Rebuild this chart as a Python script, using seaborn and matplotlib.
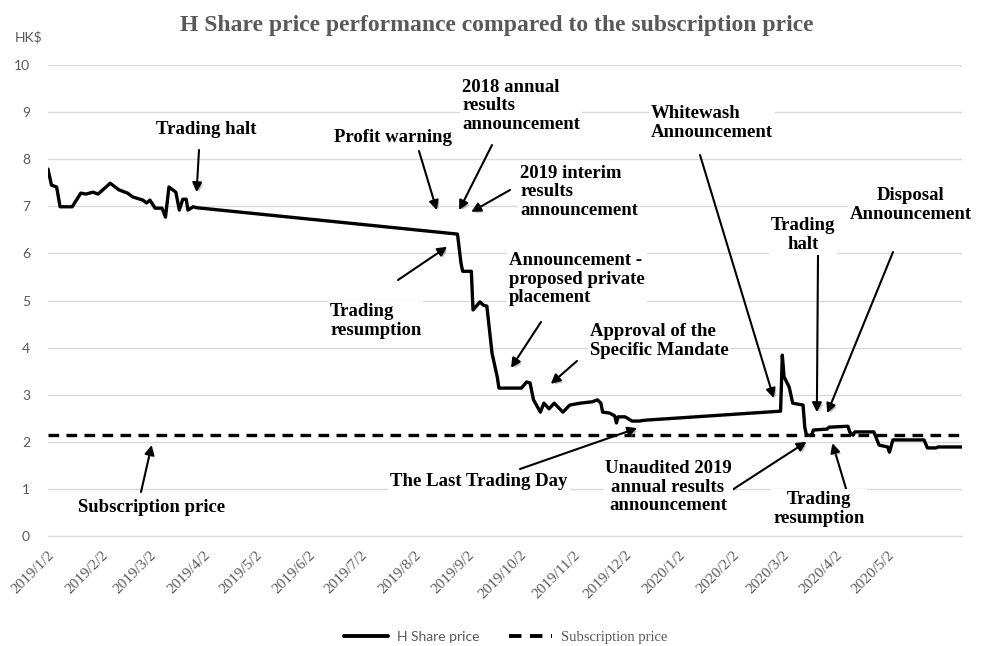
# %%
import pandas as pd
import numpy as np
import matplotlib
matplotlib.use("Agg")
import matplotlib.pyplot as plt
import matplotlib.patheffects as pe
from matplotlib.lines import Line2D
import seaborn as sns

# %% data
price_dates = [
    '2019-01-02', '2019-01-04', '2019-01-07', '2019-01-09', '2019-01-16',
    '2019-01-21', '2019-01-24', '2019-01-28', '2019-01-31', '2019-02-07',
    '2019-02-12', '2019-02-17', '2019-02-20', '2019-02-26', '2019-02-28',
    '2019-03-02', '2019-03-05', '2019-03-09', '2019-03-11', '2019-03-13',
    '2019-03-17', '2019-03-19', '2019-03-21', '2019-03-23', '2019-03-24',
    '2019-03-27', '2019-03-29',
    '2019-08-27', '2019-08-29', '2019-08-30', '2019-09-04', '2019-09-05',
    '2019-09-09', '2019-09-11', '2019-09-13', '2019-09-16', '2019-09-19',
    '2019-09-20', '2019-10-03', '2019-10-06', '2019-10-08', '2019-10-10',
    '2019-10-14', '2019-10-16', '2019-10-19', '2019-10-22', '2019-10-27',
    '2019-10-31', '2019-11-06', '2019-11-13', '2019-11-16', '2019-11-18',
    '2019-11-19', '2019-11-23', '2019-11-26', '2019-11-27', '2019-11-28',
    '2019-12-02', '2019-12-06', '2019-12-10', '2019-12-14',
    '2020-03-01', '2020-03-02', '2020-03-03', '2020-03-06', '2020-03-08',
    '2020-03-14', '2020-03-15', '2020-03-16', '2020-03-19', '2020-03-20',
    '2020-03-28', '2020-03-29', '2020-04-09', '2020-04-10', '2020-04-12',
    '2020-04-13', '2020-04-24', '2020-04-27', '2020-05-02', '2020-05-03',
    '2020-05-05', '2020-05-23', '2020-05-25', '2020-05-30', '2020-05-31',
    '2020-06-14',
]
prices = [
    7.79, 7.45, 7.41, 6.99, 6.99,
    7.28, 7.26, 7.30, 7.26, 7.49,
    7.35, 7.28, 7.20, 7.13, 7.07,
    7.13, 6.96, 6.96, 6.77, 7.41,
    7.30, 6.92, 7.15, 7.15, 6.92,
    6.99, 6.97,
    6.41, 5.80, 5.62, 5.62, 4.80,
    4.97, 4.90, 4.88, 3.88, 3.38,
    3.14, 3.14, 3.27, 3.25, 2.89,
    2.63, 2.82, 2.70, 2.82, 2.63,
    2.78, 2.82, 2.85, 2.89, 2.82,
    2.63, 2.61, 2.55, 2.40, 2.53,
    2.53, 2.44, 2.44, 2.46,
    2.65, 3.84, 3.38, 3.16, 2.82,
    2.78, 2.31, 2.14, 2.14, 2.25,
    2.27, 2.31, 2.33, 2.21, 2.14,
    2.21, 2.21, 1.93, 1.89, 1.78,
    2.04, 2.04, 1.87, 1.87, 1.89,
    1.89,
]
subscription_price = 2.15

tick_dates = pd.date_range('2019-01-01', '2020-06-01', freq='MS') + pd.Timedelta(days=1)
tick_labels = [f'{d.year}/{d.month}/{d.day}' for d in tick_dates[:-1]] + ['']

# annotations: text, text pos (px from top-left), alignment, arrow tail (px), arrow head (date, price)
notes = [
    ('Trading halt', (206, 130), 'center', (199, 150), ('2019-03-29', 7.30)),
    ('Profit warning', (393, 137), 'center', (419, 151), ('2019-08-15', 6.92)),
    ('2018 annual\nresults\nannouncement', (462, 106), 'left', (492, 145), ('2019-08-28', 6.92)),
    ('2019 interim\nresults\nannouncement', (520, 192), 'left', (510, 190), ('2019-09-04', 6.88)),
    ('Trading\nresumption', (330, 321), 'left', (398, 280), ('2019-08-21', 6.14)),
    ('Announcement -\nproposed private\nplacement', (509, 279), 'left', (541, 322), ('2019-09-27', 3.57)),
    ('Approval of the\nSpecific Mandate', (590, 341), 'left', (577, 361), ('2019-10-20', 3.23)),
    ('The Last Trading Day', (479, 481), 'center', (520, 469), ('2019-12-09', 2.29)),
    ('Subscription price', (152, 508), 'center', (141, 492), ('2019-03-03', 1.93)),
    ('Whitewash\nAnnouncement', (651, 123), 'left', (700, 155), ('2020-02-26', 2.93)),
    ('Trading\nhalt', (803, 235), 'center', (818, 255), ('2020-03-22', 2.63)),
    ('Disposal\nAnnouncement', (911, 205), 'center', (893, 252), ('2020-03-28', 2.61)),
    ('Unaudited 2019\nannual results\nannouncement', (668, 487), 'center', (732, 490), ('2020-03-16', 2.00)),
    ('Trading\nresumption', (819, 509), 'center', (850, 502), ('2020-03-31', 1.97)),
]

# %% plot
W, H = 989, 646
sns.set_style('white')
plt.rcParams['font.family'] = ['Liberation Serif', 'DejaVu Serif']

df = pd.DataFrame({'date': pd.to_datetime(price_dates), 'price': prices})
x0, x1 = pd.Timestamp('2019-01-02'), pd.Timestamp('2020-06-14')
df_sub = pd.DataFrame({'date': [x0, x1], 'price': [subscription_price] * 2})

fig = plt.figure(figsize=(W / 100, H / 100), dpi=100)
ax = fig.add_axes([48 / W, 1 - 536 / H, (962 - 48) / W, (536 - 65) / H])

sns.lineplot(data=df, x='date', y='price', color='black', lw=2.4, ax=ax, zorder=3)
sns.lineplot(data=df_sub, x='date', y='price', color='black', lw=2.4, ax=ax,
             dashes=False, zorder=3)
ax.lines[-1].set_dashes((3.2, 2.2))

ax.set_xlim(x0, x1)
ax.set_ylim(0, 10)
ax.set_yticks(range(0, 11))
ax.set_xticks(tick_dates)
ax.set_xticklabels(tick_labels, rotation=45, ha='right', rotation_mode='anchor',
                   fontsize=11, color='#595959')
for t in ax.get_yticklabels():
    t.set_fontfamily('Lato')
ax.tick_params(axis='y', length=0, pad=13, labelsize=10, labelcolor='#595959')
ax.tick_params(axis='x', length=5, width=1, color='#d9d9d9', direction='out', pad=4)
ax.yaxis.grid(True, color='#d9d9d9', lw=1)
ax.set_axisbelow(True)
for s in ['top', 'right', 'left']:
    ax.spines[s].set_visible(False)
ax.spines['bottom'].set_color('#d9d9d9')
ax.set_xlabel('')
ax.set_ylabel('')

fig.text(15 / W, 1 - 37 / H, 'HK$', fontsize=10, color='#595959', family='Lato',
         ha='left', va='center')
fig.text(497 / W, 1 - 25 / H, 'H Share price performance compared to the subscription price',
         fontsize=17, fontweight='bold', color='#595959', ha='center', va='center')

shadow = [pe.SimplePatchShadow(offset=(1.5, -1.5), shadow_rgbFace='#777777', alpha=0.45), pe.Normal()]
for txt, (tx, ty), al, (ax_, ay_), (hd, hp) in notes:
    fig.text(tx / W, 1 - ty / H, txt, fontsize=13.5, fontweight='bold', color='black',
             ha=al, va='center', multialignment=al, linespacing=1.1, zorder=4,
             bbox=dict(facecolor='white', edgecolor='none', pad=1.5))
    ann = ax.annotate('', xy=(pd.Timestamp(hd), hp), xycoords='data',
                      xytext=(ax_, H - ay_), textcoords='figure pixels',
                      arrowprops=dict(arrowstyle='-|>,head_length=0.55,head_width=0.28',
                                      color='black', lw=1.5, shrinkA=0, shrinkB=0),
                      annotation_clip=False, zorder=6)
    ann.arrow_patch.set_path_effects(shadow)

handles = [Line2D([], [], color='black', lw=2.8),
           Line2D([], [], color='black', lw=2.8, dashes=(3.2, 2.2))]
leg = fig.legend(handles, ['H Share price', 'Subscription price'], loc='center',
                 bbox_to_anchor=(506 / W, 1 - 637 / H), ncol=2, frameon=False,
                 fontsize=10.5, handlelength=3.0, columnspacing=2.0, handletextpad=0.6)
for t in leg.get_texts():
    t.set_color('#595959')
leg.get_texts()[0].set_fontfamily('Lato')
leg.get_texts()[0].set_fontsize(10)

fig.savefig('out.png', dpi=100)
